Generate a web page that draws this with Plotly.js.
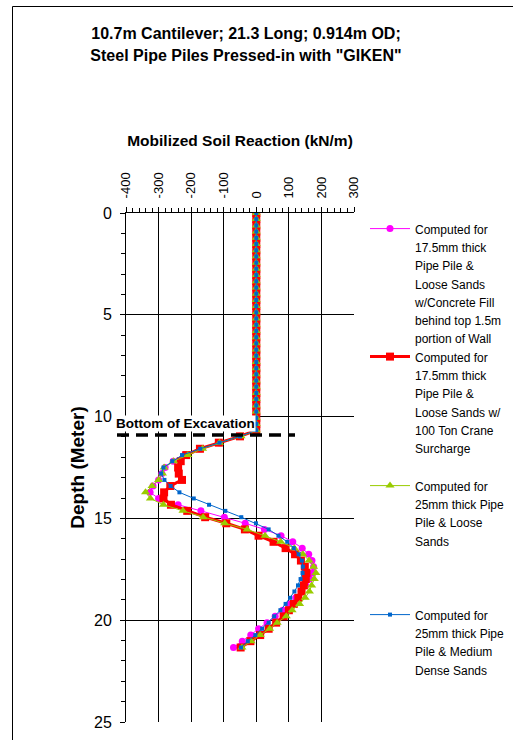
<!DOCTYPE html>
<html>
<head>
<meta charset="utf-8">
<script src="https://cdn.plot.ly/plotly-3.0.1.min.js"></script>
<style>
  html, body { margin: 0; padding: 0; background: #fff; }
  #chart { width: 513px; height: 740px; }
</style>
</head>
<body>
<div id="chart"></div>
<script>
// Depth of computation nodes (m)
const depth = [
  0, 0.30, 0.61, 0.91, 1.22, 1.52, 1.83, 2.13, 2.44, 2.74,
  3.05, 3.35, 3.66, 3.96, 4.27, 4.57, 4.88, 5.18, 5.49, 5.79,
  6.10, 6.40, 6.71, 7.01, 7.32, 7.62, 7.92, 8.23, 8.53, 8.84,
  9.14, 9.45, 9.75, 10.06, 10.36, 10.67, 10.97, 11.28, 11.58, 11.89,
  12.19, 12.50, 12.80, 13.11, 13.41, 13.72, 14.02, 14.33, 14.63, 14.94,
  15.24, 15.54, 15.85, 16.15, 16.46, 16.76, 17.07, 17.37, 17.68, 17.98,
  18.29, 18.59, 18.90, 19.20, 19.51, 19.81, 20.12, 20.42, 20.73, 21.03,
  21.34
];

// Mobilized soil reaction (kN/m)
const concreteFill175 = [
  0, 0, 0, 0, 0, 0, 0, 0, 0, 0,
  0, 0, 0, 0, 0, 0, 0, 0, 0, 0,
  0, 0, 0, 0, 0, 0, 0, 0, 0, 0,
  0, 0, 0, 0, 0, 0, -50, -113, -170, -220,
  -255, -280, -290, -300, -317, -326, -300, -240, -170, -98,
  -34, 25, 76, 112, 141, 161, 171, 176, 172, 164,
  152, 138, 121, 102, 81, 58, 33, 7, -17, -43,
  -70
];
const crane175 = [
  0, 0, 0, 0, 0, 0, 0, 0, 0, 0,
  0, 0, 0, 0, 0, 0, 0, 0, 0, 0,
  0, 0, 0, 0, 0, 0, 0, 0, 0, 0,
  0, 0, 0, 0, 0, 0, -50, -115, -173, -215,
  -232, -240, -238, -228, -264, -283, -285, -262, -212, -157,
  -92, -35, 7, 53, 90, 119, 137, 149, 154, 152,
  146, 139, 129, 115, 100, 84, 61, 38, 12, -18,
  -48
];
const loose25 = [
  0, 0, 0, 0, 0, 0, 0, 0, 0, 0,
  0, 0, 0, 0, 0, 0, 0, 0, 0, 0,
  0, 0, 0, 0, 0, 0, 0, 0, 0, 0,
  0, 0, 0, 0, 0, 0, -47, -113, -165, -210,
  -254, -283, -288, -300, -320, -340, -325, -285, -225, -163,
  -97, -28, 27, 75, 117, 143, 162, 176, 183, 178,
  170, 163, 150, 133, 110, 92, 64, 41, 12, -16,
  -44
];
const medDense25 = [
  0, 0, 0, 0, 0, 0, 0, 0, 0, 0,
  0, 0, 0, 0, 0, 0, 0, 0, 0, 0,
  0, 0, 0, 0, 0, 0, 0, 0, 0, 0,
  0, 0, 0, 0, 0, 0, -50, -113, -172, -228,
  -258, -285, -292, -282, -263, -236, -192, -145, -95, -46,
  -1, 38, 68, 95, 115, 130, 140, 143, 142, 136,
  128, 117, 104, 90, 74, 55, 38, 18, -3, -26,
  -47
];

const seriesNames = [
  'Computed for<br>17.5mm thick<br>Pipe Pile &amp;<br>Loose Sands<br>w/Concrete Fill<br>behind top 1.5m<br>portion of Wall',
  'Computed for<br>17.5mm thick<br>Pipe Pile &amp;<br>Loose Sands w/<br>100 Ton Crane<br>Surcharge',
  'Computed for<br>25mm thick Pipe<br>Pile &amp; Loose<br>Sands',
  'Computed for<br>25mm thick Pipe<br>Pile &amp; Medium<br>Dense Sands'
];
const excavationDepth = 10.9;
const xTicks = [-400, -300, -200, -100, 0, 100, 200, 300];
const yTicks = [0, 5, 10, 15, 20, 25];

const FONT = '"Liberation Sans", Arial, Helvetica, sans-serif';
const small = s => '<span style="font-size:12px">' + s + '</span>';

const traces = [
  {
    x: concreteFill175, y: depth, name: small(seriesNames[0]), legend: 'legend',
    mode: 'lines+markers', type: 'scatter',
    line: { color: '#FF00FF', width: 1 },
    marker: { symbol: 'circle', size: 7, color: '#FF00FF' }
  },
  {
    x: crane175, y: depth, name: small(seriesNames[1]), legend: 'legend2',
    mode: 'lines+markers', type: 'scatter',
    line: { color: '#FF0000', width: 3 },
    marker: { symbol: 'square', size: 8, color: '#FF0000' }
  },
  {
    x: loose25, y: depth, name: small(seriesNames[2]), legend: 'legend3',
    mode: 'lines+markers', type: 'scatter',
    line: { color: '#99CC00', width: 1 },
    marker: { symbol: 'triangle-up', size: 8, color: '#99CC00' }
  },
  {
    x: medDense25, y: depth, name: small(seriesNames[3]), legend: 'legend4',
    mode: 'lines+markers', type: 'scatter',
    line: { color: '#0066CC', width: 1 },
    marker: { symbol: 'square', size: 4, color: '#0066CC' }
  }
];

const W = 513, H = 740;
const L = 126, R = 159, T = 213, B = 18;
const PW = W - L - R, PH = H - T - B;
const px = v => (v - L) / PW;
const py = v => (H - B - v) / PH;

function legendAt(topPx) {
  return {
    xref: 'container', yref: 'container',
    x: 365 / W, xanchor: 'left', y: 1 - topPx / H, yanchor: 'top',
    valign: 'top', bgcolor: 'rgba(0,0,0,0)', borderwidth: 0,
    font: { family: FONT, size: 14, color: '#000' },
    itemwidth: 40, tracegroupgap: 0
  };
}

const layout = {
  width: W, height: H,
  margin: { l: L, r: R, t: T, b: B, pad: 0, autoexpand: false },
  paper_bgcolor: '#fff', plot_bgcolor: '#fff',
  font: { family: FONT, color: '#000' },
  title: {
    text: '<span style="font-size:16px">10.7m Cantilever; 21.3 Long; 0.914m OD;<br>Steel Pipe Piles Pressed-in with "GIKEN"</span>',
    font: { family: FONT, size: 17, weight: 'bold', color: '#000' },
    xref: 'container', x: 246 / W, xanchor: 'center',
    yref: 'container', y: 1 - 39 / H, yanchor: 'top'
  },
  showlegend: true,
  legend: legendAt(213),
  legend2: legendAt(341),
  legend3: legendAt(470),
  legend4: legendAt(599),
  xaxis: {
    side: 'top', range: [-400, 300], tickvals: xTicks, ticktext: xTicks.map(String),
    tickangle: -90, tickfont: { family: FONT, size: 13, color: '#000' },
    ticks: 'outside', ticklen: 5, tickcolor: '#000', tickwidth: 1,
    ticklabelstandoff: 6,
    minor: { dtick: 20, tick0: 0, ticks: 'outside', ticklen: 4, tickcolor: '#000', showgrid: false },
    showgrid: true, gridcolor: '#000', gridwidth: 1,
    showline: true, linecolor: '#000', linewidth: 1, zeroline: false, mirror: false,
    title: { text: 'Mobilized Soil Reaction (kN/m)', font: { family: FONT, size: 15.5, weight: 'bold', color: '#000' }, standoff: 21 },
    fixedrange: true
  },
  yaxis: {
    range: [25, 0], tickvals: yTicks, ticktext: yTicks.map(String),
    tickfont: { family: FONT, size: 16, color: '#000' },
    ticks: 'outside', ticklen: 5, tickcolor: '#000', tickwidth: 1,
    ticklabelstandoff: 5,
    minor: { dtick: 1, tick0: 0, ticks: 'outside', ticklen: 4, tickcolor: '#000', showgrid: false },
    showgrid: true, gridcolor: '#000', gridwidth: 1,
    showline: true, linecolor: '#000', linewidth: 1, zeroline: false, mirror: false,
    title: { text: 'Depth (Meter)', font: { family: FONT, size: 19, weight: 'bold', color: '#000' }, standoff: 4 },
    fixedrange: true
  },
  shapes: [
    { type: 'line', xref: 'paper', yref: 'y', x0: px(117), x1: px(295), y0: excavationDepth, y1: excavationDepth,
      line: { color: '#000', width: 3.5, dash: '12px,7px' }, layer: 'above' },
    { type: 'line', xref: 'paper', yref: 'paper', x0: px(12.5), x1: px(12.5), y0: py(6.5), y1: py(760),
      line: { color: '#000', width: 1 } },
    { type: 'line', xref: 'paper', yref: 'paper', x0: px(12.5), x1: px(530), y0: py(6.5), y1: py(6.5),
      line: { color: '#000', width: 1 } }
  ],
  annotations: [
    { text: 'Bottom of Excavation', xref: 'paper', yref: 'y', x: px(115), y: excavationDepth,
      xanchor: 'left', yanchor: 'bottom', yshift: 3, showarrow: false,
      bgcolor: '#fff', borderpad: 0,
      font: { family: FONT, size: 13.5, weight: 'bold', color: '#000' } }
  ]
};

Plotly.newPlot('chart', traces, layout, { displayModeBar: false, staticPlot: true });
</script>
</body>
</html>
